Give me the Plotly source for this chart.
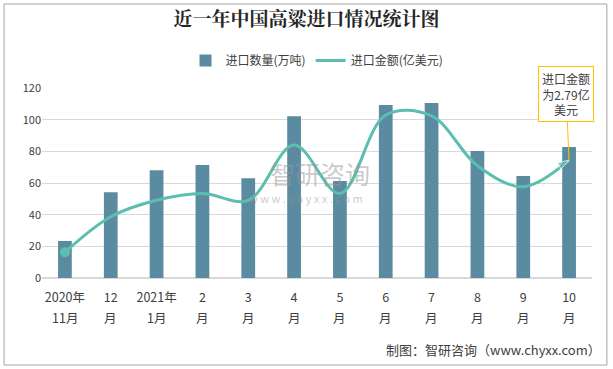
import plotly.graph_objects as go

categories = ["2020年<br>11月", "12<br>月", "2021年<br>1月", "2<br>月", "3<br>月", "4<br>月",
              "5<br>月", "6<br>月", "7<br>月", "8<br>月", "9<br>月", "10<br>月"]
volume = [23.4, 54.1, 68.0, 71.4, 63.0, 102.1, 61.3, 109.3, 110.5, 80.2, 64.4, 82.7]   # 万吨
amount = [0.61, 1.45, 1.84, 2.00, 1.84, 3.15, 2.00, 3.86, 3.84, 2.66, 2.16, 2.79]      # 亿美元

top_lines = [c.split("<br>")[0] for c in categories]
bottom_lines = [c.split("<br>")[1] for c in categories]

teal = "#5BBEB0"
fig = go.Figure()
fig.add_trace(go.Bar(x=categories, y=volume, name="进口数量(万吨)",
                     marker=dict(color="#5B8BA1", line=dict(width=0)), width=0.3))
fig.add_trace(go.Scatter(x=categories, y=amount, name="进口金额(亿美元)", yaxis="y2",
                         mode="lines",
                         line=dict(color=teal, width=3, shape="spline", smoothing=1.0)))
fig.add_trace(go.Scatter(x=categories[:1], y=amount[:1], yaxis="y2", mode="markers",
                         showlegend=False, hoverinfo="skip",
                         marker=dict(color=teal, size=10, symbol="circle")))
fig.add_trace(go.Scatter(x=categories[-2:], y=amount[-2:], yaxis="y2", mode="markers",
                         showlegend=False, hoverinfo="skip",
                         marker=dict(color=teal, size=[0, 12], symbol=["circle", "arrow"],
                                     angleref="previous")))

font_main = "Noto Sans CJK SC, Microsoft YaHei, sans-serif"

annotations = [
    dict(x=categories[-1], y=amount[-1], xref="x", yref="y2",
         text="进口金额<br>为2.79亿<br>美元", showarrow=True, arrowhead=0, arrowwidth=1,
         arrowcolor="#FFC000", ax=-3, ay=-66, bordercolor="#FFC000", borderwidth=1,
         bgcolor="white", borderpad=3, font=dict(size=12, color="#404040")),
    dict(x=1.02, y=-0.374, xref="paper", yref="paper", xanchor="right", yanchor="middle",
         text="制图：智研咨询（www.chyxx.com）", showarrow=False,
         font=dict(size=13, color="#404040")),
    dict(x=0.505, y=0.555, xref="paper", yref="paper", xanchor="center", yanchor="middle",
         text="智研咨询", showarrow=False, font=dict(size=25, color="rgba(150,150,150,0.5)")),
    dict(x=0.48, y=0.42, xref="paper", yref="paper", xanchor="center", yanchor="middle",
         text="w w w . c h y x x . c o m", showarrow=False,
         font=dict(size=11, color="rgba(150,150,150,0.5)")),
]
for c, b in zip(categories, bottom_lines):
    annotations.append(dict(x=c, y=-0.21, xref="x", yref="paper", text=b, showarrow=False,
                            xanchor="center", yanchor="middle",
                            font=dict(size=12.5, color="#404040")))

fig.update_layout(
    width=613, height=369,
    margin=dict(l=42, r=21, t=88, b=91, autoexpand=False),
    paper_bgcolor="white", plot_bgcolor="white",
    font=dict(family=font_main, size=12, color="#404040"),
    title=dict(text="<b>近一年中国高粱进口情况统计图</b>", x=0.5, xanchor="center",
               y=0.9485, yanchor="middle",
               font=dict(family="Noto Serif CJK SC, Noto Sans CJK SC, serif", size=19, color="#262626")),
    legend=dict(orientation="h", x=0.5, xanchor="center", y=1.145, yanchor="middle",
                font=dict(size=12, color="#404040"), itemwidth=30, traceorder="normal"),
    xaxis=dict(range=[-0.5, len(categories) - 0.5], showgrid=False, showline=False, ticks="",
               tickmode="array", tickvals=categories, ticktext=top_lines,
               tickfont=dict(size=12.5, color="#404040"),
               ticklabelstandoff=10, automargin=False),
    yaxis=dict(range=[0, 120], dtick=20, showgrid=True, gridcolor="#D9D9D9", gridwidth=1,
               zeroline=True, zerolinecolor="#D9D9D9", showline=False, ticks="",
               tickfont=dict(size=11, color="#404040"), automargin=False),
    yaxis2=dict(range=[0, 4.5], overlaying="y", side="right", visible=False),
    shapes=[dict(type="rect", xref="paper", yref="paper", x0=-0.069, x1=1.027, y0=-0.458, y1=1.442,
                 line=dict(color="#A6A6A6", width=1), fillcolor="rgba(0,0,0,0)", layer="below")],
    annotations=annotations,
)

fig.write_html("out.html", config={"displayModeBar": False},
               post_script="document.body.style.margin='0';document.body.style.overflow='hidden';")
